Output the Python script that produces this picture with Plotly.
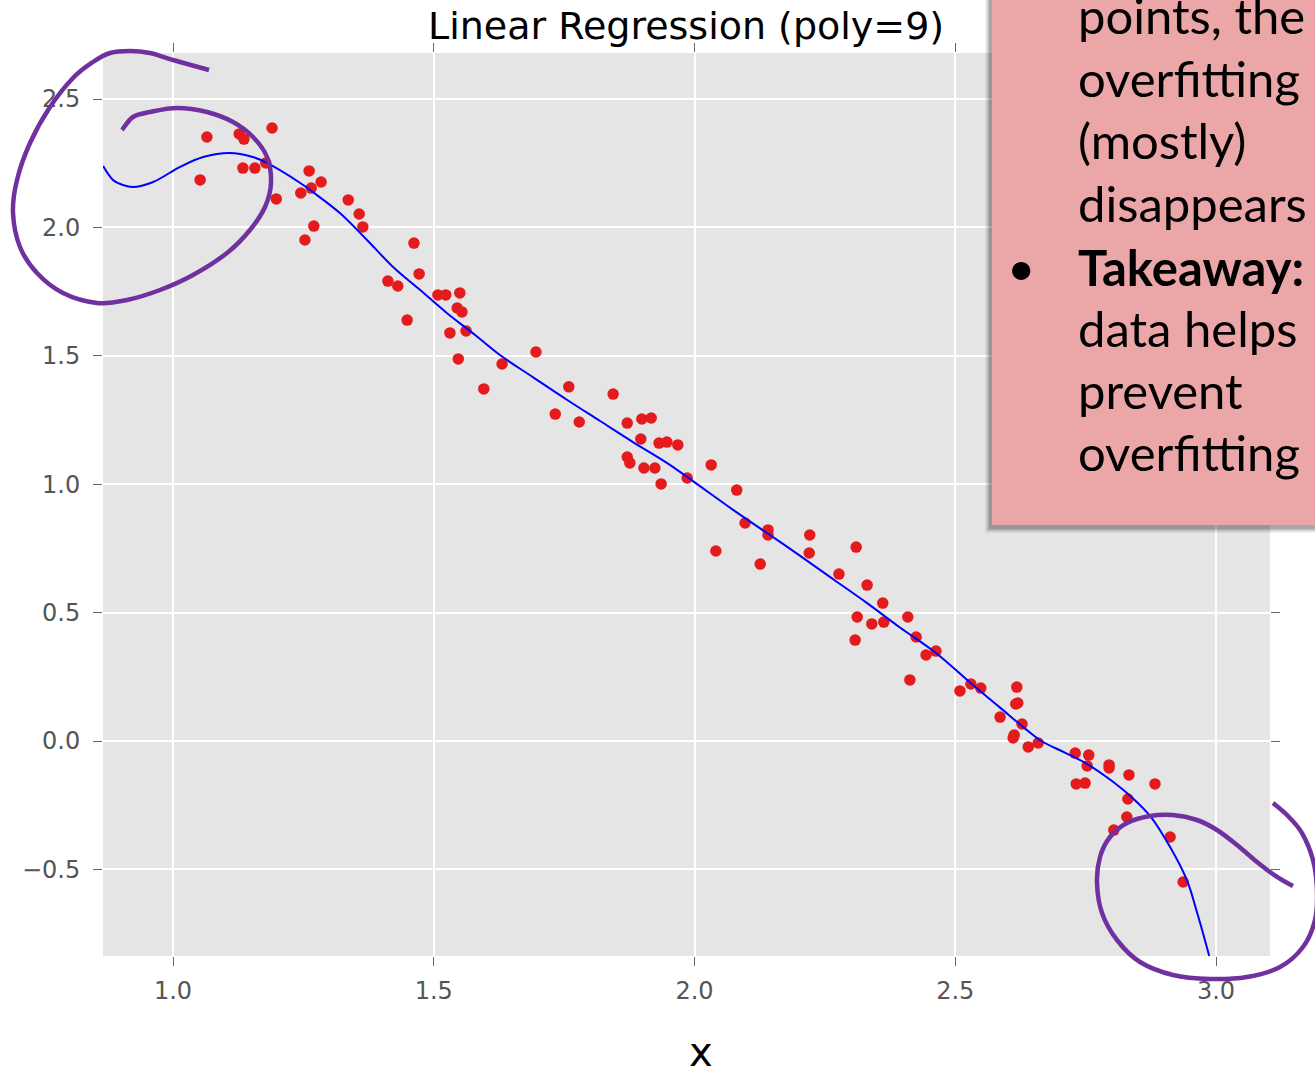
import plotly.graph_objects as go

# ---------------- data ----------------
x_pts = [1.052, 1.065, 1.127, 1.136, 1.134, 1.157, 1.178, 1.190, 1.198, 1.245,
         1.261, 1.253, 1.265, 1.270, 1.284, 1.336, 1.357, 1.364, 1.462, 1.472,
         1.412, 1.431, 1.449, 1.508, 1.523, 1.550, 1.545, 1.554, 1.531, 1.562,
         1.547, 1.596, 1.631, 1.696, 1.759, 1.733, 1.779, 1.844, 1.871, 1.899,
         1.917, 1.897, 1.932, 1.947, 1.968, 1.871, 1.876, 1.903, 1.924, 1.936,
         1.986, 2.032, 2.041, 2.081, 2.097, 2.126, 2.141, 2.141, 2.221, 2.220,
         2.277, 2.310, 2.312, 2.308, 2.331, 2.340, 2.361, 2.363, 2.409, 2.413,
         2.425, 2.444, 2.463, 2.509, 2.530, 2.549, 2.586, 2.611, 2.613, 2.616,
         2.618, 2.620, 2.628, 2.640, 2.659, 2.730, 2.732, 2.749, 2.753, 2.756,
         2.795, 2.795, 2.804, 2.829, 2.831, 2.833, 2.883, 2.912, 2.937]
y_pts = [2.185, 2.352, 2.364, 2.344, 2.231, 2.231, 2.251, 2.387, 2.111, 2.134,
         2.220, 1.951, 2.153, 2.005, 2.177, 2.107, 2.052, 2.002, 1.939, 1.819,
         1.791, 1.772, 1.639, 1.737, 1.737, 1.745, 1.686, 1.671, 1.589, 1.597,
         1.488, 1.371, 1.468, 1.515, 1.379, 1.273, 1.242, 1.351, 1.238, 1.254,
         1.258, 1.176, 1.160, 1.164, 1.153, 1.106, 1.083, 1.063, 1.063, 1.001,
         1.024, 1.075, 0.740, 0.977, 0.849, 0.689, 0.822, 0.802, 0.802, 0.732,
         0.650, 0.755, 0.483, 0.393, 0.607, 0.456, 0.537, 0.463, 0.483, 0.238,
         0.405, 0.335, 0.350, 0.195, 0.222, 0.206, 0.093, 0.012, 0.023, 0.144,
         0.210, 0.148, 0.066, -0.023, -0.008, -0.047, -0.167, -0.164, -0.097, -0.055,
         -0.105, -0.093, -0.347, -0.296, -0.226, -0.132, -0.167, -0.374, -0.549]

fit_x = [0.866, 0.885, 0.904, 0.923, 0.962, 1.013, 1.058, 1.109, 1.153, 1.180,
         1.244, 1.268, 1.320, 1.372, 1.422, 1.474, 1.525, 1.580, 1.627, 1.690,
         1.756, 1.819, 1.882, 1.947, 1.997, 2.074, 2.139, 2.202, 2.266, 2.331,
         2.394, 2.463, 2.530, 2.586, 2.630, 2.665, 2.710, 2.753, 2.800, 2.840,
         2.875, 2.912, 2.944, 2.964, 2.987]
fit_y = [2.239, 2.185, 2.165, 2.157, 2.177, 2.235, 2.274, 2.290, 2.274, 2.251,
         2.173, 2.138, 2.056, 1.951, 1.846, 1.756, 1.667, 1.580, 1.503, 1.417,
         1.328, 1.246, 1.164, 1.083, 1.012, 0.900, 0.810, 0.722, 0.630, 0.537,
         0.442, 0.343, 0.225, 0.130, 0.055, 0.000, -0.045, -0.090, -0.155, -0.222,
         -0.295, -0.413, -0.541, -0.670, -0.837]

x_tick_vals = [1.0, 1.5, 2.0, 2.5, 3.0]
x_tick_text = ["1.0", "1.5", "2.0", "2.5", "3.0"]
y_tick_vals = [-0.5, 0.0, 0.5, 1.0, 1.5, 2.0, 2.5]
y_tick_text = ["\u22120.5", "0.0", "0.5", "1.0", "1.5", "2.0", "2.5"]

title_text = "Linear Regression (poly=9)"
x_label = "x"
note_lines = ["points, the", "overfitting", "(mostly)", "disappears",
              "<b>Takeaway:</b>", "data helps", "prevent", "overfitting"]

# ---------------- layout geometry ----------------
W, H = 1315, 1071
ML, MR, MT, MB = 103, 45, 53, 115
PW, PH = W - ML - MR, H - MT - MB


def px(x):
    return (x - ML) / PW


def py(y):
    return (H - MB - y) / PH


def smooth_path(pts):
    P = [(px(a), py(b)) for a, b in pts]
    d = "M {:.5f},{:.5f}".format(*P[0])
    for i in range(len(P) - 1):
        p0 = P[i - 1] if i > 0 else P[i]
        p1, p2 = P[i], P[i + 1]
        p3 = P[i + 2] if i + 2 < len(P) else P[i + 1]
        c1 = (p1[0] + (p2[0] - p0[0]) / 6, p1[1] + (p2[1] - p0[1]) / 6)
        c2 = (p2[0] - (p3[0] - p1[0]) / 6, p2[1] - (p3[1] - p1[1]) / 6)
        d += " C {:.5f},{:.5f} {:.5f},{:.5f} {:.5f},{:.5f}".format(*c1, *c2, *p2)
    return d


# hand-drawn ink (page pixel coordinates)
ink_top_left = [(209, 70), (173, 60), (150, 53), (130, 51), (110, 53), (93, 62),
                (73, 78), (50, 107), (30, 143), (17, 180), (13, 213), (20, 247),
                (37, 273), (63, 293), (97, 303), (127, 300), (160, 290), (193, 275),
                (227, 253), (250, 230), (265, 207), (271, 183), (267, 157),
                (253, 137), (233, 122), (207, 112), (177, 108), (150, 112),
                (133, 117), (122, 130)]
ink_bottom_right = [(1293, 886), (1277, 877), (1257, 862), (1237, 845), (1217, 830),
                    (1197, 820), (1173, 815), (1150, 816), (1127, 823), (1110, 837),
                    (1100, 857), (1097, 883), (1102, 913), (1117, 940), (1140, 962),
                    (1173, 975), (1210, 979), (1247, 977), (1280, 967), (1303, 947),
                    (1315, 920), (1317, 890), (1313, 860), (1302, 833), (1287, 815),
                    (1273, 803)]

fig = go.Figure()
fig.add_trace(go.Scatter(x=x_pts, y=y_pts, mode="markers",
                         marker=dict(color="#E41A1C", size=11.5, line=dict(width=0)),
                         showlegend=False, hoverinfo="skip"))
fig.add_trace(go.Scatter(x=fit_x, y=fit_y, mode="lines",
                         line=dict(color="#0000FF", width=2, shape="spline", smoothing=1.0),
                         showlegend=False, hoverinfo="skip"))

axis_common = dict(showgrid=True, gridcolor="white", gridwidth=1.5, zeroline=False,
                   showline=False, ticks="outside", ticklen=9, tickwidth=1,
                   tickcolor="#666666", mirror="ticks",
                   tickfont=dict(family="DejaVu Sans", size=24, color="#555555"))

fig.update_xaxes(range=[1 + (ML - 173) / 521.5, 1 + (W - MR - 173) / 521.5],
                 tickmode="array", tickvals=x_tick_vals, ticktext=x_tick_text,
                 ticklabelstandoff=4, **axis_common)
fig.update_yaxes(range=[-(H - MB - 741) / 256.8, (741 - MT) / 256.8],
                 tickmode="array", tickvals=y_tick_vals, ticktext=y_tick_text,
                 ticklabelstandoff=8, **axis_common)

shapes = []
# note box shadow
for k, a in enumerate([0.05, 0.06, 0.07, 0.09, 0.12]):
    s = 7 - k
    shapes.append(dict(type="rect", xref="paper", yref="paper", layer="above",
                       x0=px(992 - s), x1=px(1340), y0=py(525 + s + 1), y1=py(-30),
                       fillcolor="rgba(0,0,0,{})".format(a), line=dict(width=0)))
shapes.append(dict(type="rect", xref="paper", yref="paper", layer="above",
                   x0=px(992), x1=px(1340), y0=py(525), y1=py(-30),
                   fillcolor="#EBA6A7", line=dict(width=0)))
for pts in (ink_top_left, ink_bottom_right):
    shapes.append(dict(type="path", xref="paper", yref="paper", layer="above",
                       path=smooth_path(pts),
                       line=dict(color="#7030A0", width=4.5)))

annotations = [
    dict(text=title_text, xref="paper", yref="paper", x=px(686), y=py(26),
         xanchor="center", yanchor="middle", showarrow=False,
         font=dict(family="DejaVu Sans", size=38, color="black")),
    dict(text=x_label, xref="paper", yref="paper", x=px(701), y=py(1052),
         xanchor="center", yanchor="middle", showarrow=False,
         font=dict(family="DejaVu Sans", size=40, color="black")),
]
baselines = [33, 96, 158, 221, 285, 346, 408, 470]
for t, b in zip(note_lines, baselines):
    annotations.append(dict(text=t, xref="paper", yref="paper", x=px(1076), y=py(b - 18),
                            xanchor="left", yanchor="middle", showarrow=False,
                            font=dict(family="Lato", size=49, color="black")))
annotations.append(dict(text="\u2022", xref="paper", yref="paper", x=px(1021), y=py(266),
                        xanchor="center", yanchor="middle", showarrow=False,
                        font=dict(family="Lato", size=49, color="black")))

fig.update_layout(width=W, height=H, margin=dict(l=ML, r=MR, t=MT, b=MB),
                  paper_bgcolor="white", plot_bgcolor="#E5E5E5",
                  shapes=shapes, annotations=annotations, showlegend=False)

fig.write_html("out.html")
